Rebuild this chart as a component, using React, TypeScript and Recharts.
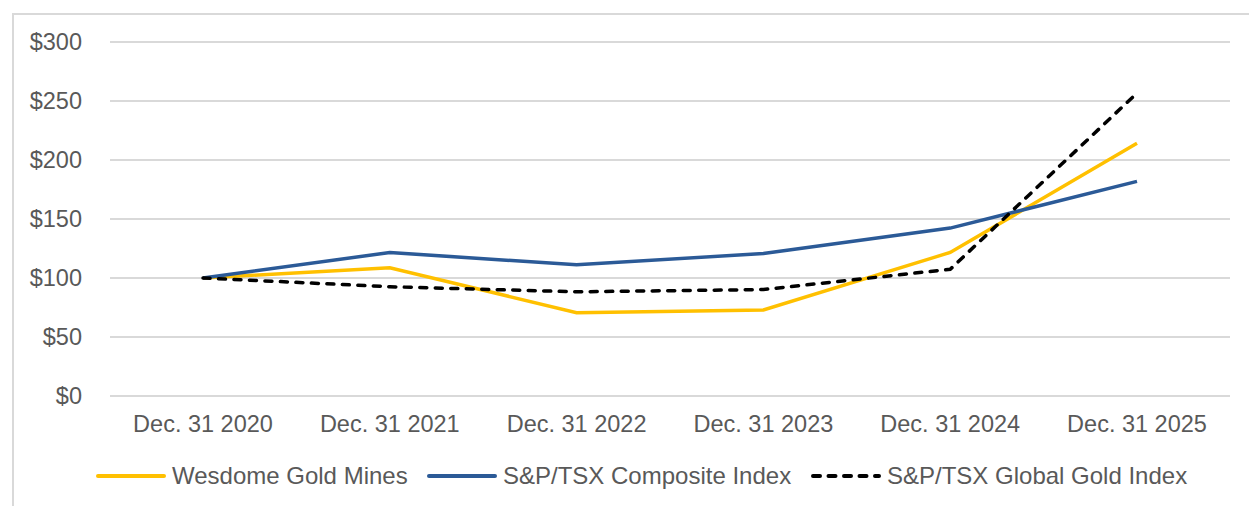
import React from 'react';
import { LineChart, Line, XAxis, YAxis, CartesianGrid } from 'recharts';

const categories = ['Dec. 31 2020', 'Dec. 31 2021', 'Dec. 31 2022', 'Dec. 31 2023', 'Dec. 31 2024', 'Dec. 31 2025'];
const wesdome = [100, 108.7, 70.6, 72.9, 121.6, 214.2];
const composite = [100, 121.6, 111.2, 120.7, 142.3, 181.9];
const goldIndex = [100, 92.6, 88.3, 90.2, 107.4, 256.7];
const yTicks = [0, 50, 100, 150, 200, 250, 300];
const seriesNames = ['Wesdome Gold Mines', 'S&P/TSX Composite Index', 'S&P/TSX Global Gold Index'];

const data = categories.map((c, i) => ({
  date: c,
  wesdome: wesdome[i],
  composite: composite[i],
  gold: goldIndex[i],
}));

const FONT = '"Liberation Sans", Arial, sans-serif';
const TEXT = '#595959';
const COLORS = ['#FFC000', '#2B5A97', '#000000'];

export default function App() {
  const legendItems = [
    { name: seriesNames[0], color: COLORS[0], dash: undefined as string | undefined, left: 96 },
    { name: seriesNames[1], color: COLORS[1], dash: undefined, left: 427 },
    { name: seriesNames[2], color: COLORS[2], dash: '7 8.5', left: 811 },
  ];
  return (
    <div style={{ position: 'absolute', left: 0, top: 0, width: 1249, height: 506, overflow: 'hidden', background: '#fff', fontFamily: FONT }}>
      <div style={{ position: 'absolute', left: 12, top: 13, width: 1237, height: 493, borderTop: '2px solid #d9d9d9', borderLeft: '2px solid #d9d9d9', boxSizing: 'border-box' }} />
      <div style={{ position: 'absolute', left: 0, top: 0 }}>
        <LineChart width={1249} height={506} data={data} margin={{ top: 42, right: 19, left: 0, bottom: 80 }}>
          <CartesianGrid vertical={false} stroke="#d9d9d9" strokeWidth={2} />
          <XAxis
            dataKey="date"
            height={30}
            axisLine={false}
            tickLine={false}
            tickSize={0}
            tickMargin={19}
            interval={0}
            padding={{ left: 93, right: 93 }}
            tick={{ fill: TEXT, fontSize: 23.5, fontFamily: FONT }}
          />
          <YAxis
            width={110}
            domain={[0, 300]}
            ticks={yTicks}
            axisLine={false}
            tickLine={false}
            tickSize={0}
            tickMargin={28}
            tickFormatter={(v: number) => `$${v}`}
            tick={{ fill: TEXT, fontSize: 23.5, fontFamily: FONT }}
          />
          <Line type="linear" dataKey="wesdome" name={seriesNames[0]} stroke={COLORS[0]} strokeWidth={3.5} dot={false} isAnimationActive={false} />
          <Line type="linear" dataKey="composite" name={seriesNames[1]} stroke={COLORS[1]} strokeWidth={3.5} dot={false} isAnimationActive={false} />
          <Line type="linear" dataKey="gold" name={seriesNames[2]} stroke={COLORS[2]} strokeWidth={3.5} strokeDasharray="7 8.5" strokeLinecap="round" dot={false} isAnimationActive={false} />
        </LineChart>
      </div>
      {legendItems.map((it) => (
        <div key={it.name} style={{ position: 'absolute', left: it.left, top: 462, height: 28, display: 'flex', alignItems: 'center', whiteSpace: 'nowrap' }}>
          <svg width={70} height={10} style={{ marginRight: 6 }}>
            <line x1={2} y1={5} x2={68} y2={5} stroke={it.color} strokeWidth={4} strokeDasharray={it.dash} strokeLinecap="round" />
          </svg>
          <span style={{ color: TEXT, fontSize: 24, fontFamily: FONT, lineHeight: '28px' }}>{it.name}</span>
        </div>
      ))}
    </div>
  );
}
